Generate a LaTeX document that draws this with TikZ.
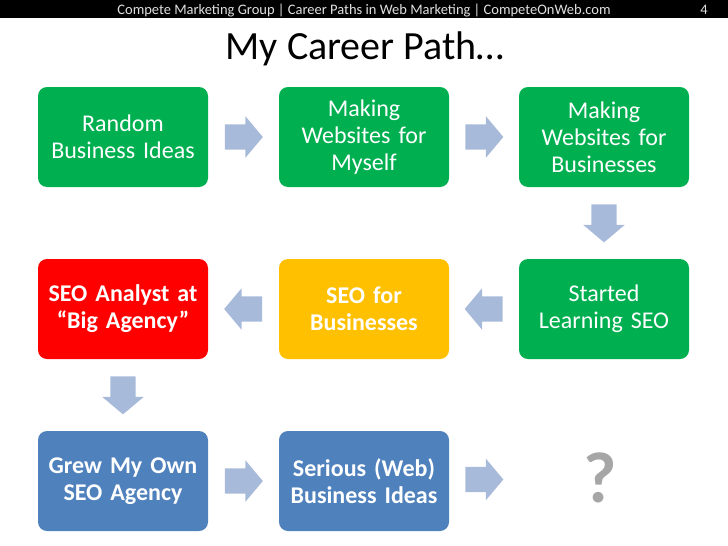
\documentclass[tikz,border=0pt]{standalone}
\usepackage{fontspec}
\setmainfont{Carlito}
\usetikzlibrary{shapes.arrows}
\definecolor{stagegreen}{RGB}{0,176,80}
\definecolor{stagered}{RGB}{255,0,0}
\definecolor{stageyellow}{RGB}{255,192,0}
\definecolor{stageblue}{RGB}{79,129,189}
\definecolor{flowblue}{RGB}{168,186,218}
\definecolor{qgrey}{RGB}{166,166,166}
\begin{document}
\begin{tikzpicture}[x=1pt,y=-1pt,
    stage/.style={rounded corners=9pt, minimum width=170pt, minimum height=100pt,
        inner sep=4pt, text width=162pt, align=center, text=white,
        font=\fontsize{24}{27}\selectfont},
    boldstage/.style={stage, font=\fontsize{24}{27}\selectfont\bfseries},
    flowbase/.style={single arrow, fill=flowblue, draw=none, inner xsep=0pt, inner ysep=12.5pt,
        minimum height=38pt, single arrow head extend=8pt,
        single arrow tip angle=100},
    flow/.style={flowbase, xshift=-5pt},
    flowleft/.style={flowbase, xshift=5pt, rotate=180},
    flowdown/.style={flowbase, yshift=5pt, rotate=-90}]
        \useasboundingbox (0,0) rectangle (728,546);
        %% Header
        \fill[black] (0,0) rectangle (728,18);
        \node[anchor=base, text=white!88!black, font=\fontsize{14.5}{16}\selectfont] (header) at (364,14)
            {Compete Marketing Group | Career Paths in Web Marketing | CompeteOnWeb.com};
        \node[anchor=base, text=white!88!black, font=\fontsize{14.5}{16}\selectfont] (pagenum) at (704,14) {4};
        \node[anchor=base, font=\fontsize{40}{44}\selectfont] (title) at (365,59) {My Career Path…};
        %% Row 1
        \node[stage, fill=stagegreen] (random) at (123,137) {Random\\Business Ideas};
        \node[stage, fill=stagegreen] (myself) at (364,137) {Making\\Websites for\\Myself};
        \node[stage, fill=stagegreen] (clients) at (604,137) {Making\\Websites for\\Businesses};
        %% Row 2
        \node[stage, fill=stagegreen] (learning) at (604,309) {Started\\Learning SEO};
        \node[boldstage, fill=stageyellow] (seobiz) at (364,309) {SEO for\\Businesses};
        \node[boldstage, fill=stagered] (analyst) at (123,309) {SEO Analyst at\\“Big Agency”};
        %% Row 3
        \node[boldstage, fill=stageblue] (agency) at (123,481) {Grew My Own\\SEO Agency};
        \node[boldstage, fill=stageblue] (serious) at (364,481) {Serious (Web)\\Business Ideas};
        \node[inner sep=0pt, minimum width=162pt, minimum height=100pt, text=qgrey,
            font=\fontsize{72}{80}\selectfont\bfseries] (next) at (600,478) {?};
        %% Arrows
        \path (random) -- node[flow] {} (myself);
        \path (myself) -- node[flow] {} (clients);
        \path (clients) -- node[flowdown] {} (learning);
        \path (learning) -- node[flowleft] {} (seobiz);
        \path (seobiz) -- node[flowleft] {} (analyst);
        \path (analyst) -- node[flowdown] {} (agency);
        \path (agency) -- node[flow] {} (serious);
        \path (serious) -- node[flow] {} (next);
    \end{tikzpicture}
\end{document}
